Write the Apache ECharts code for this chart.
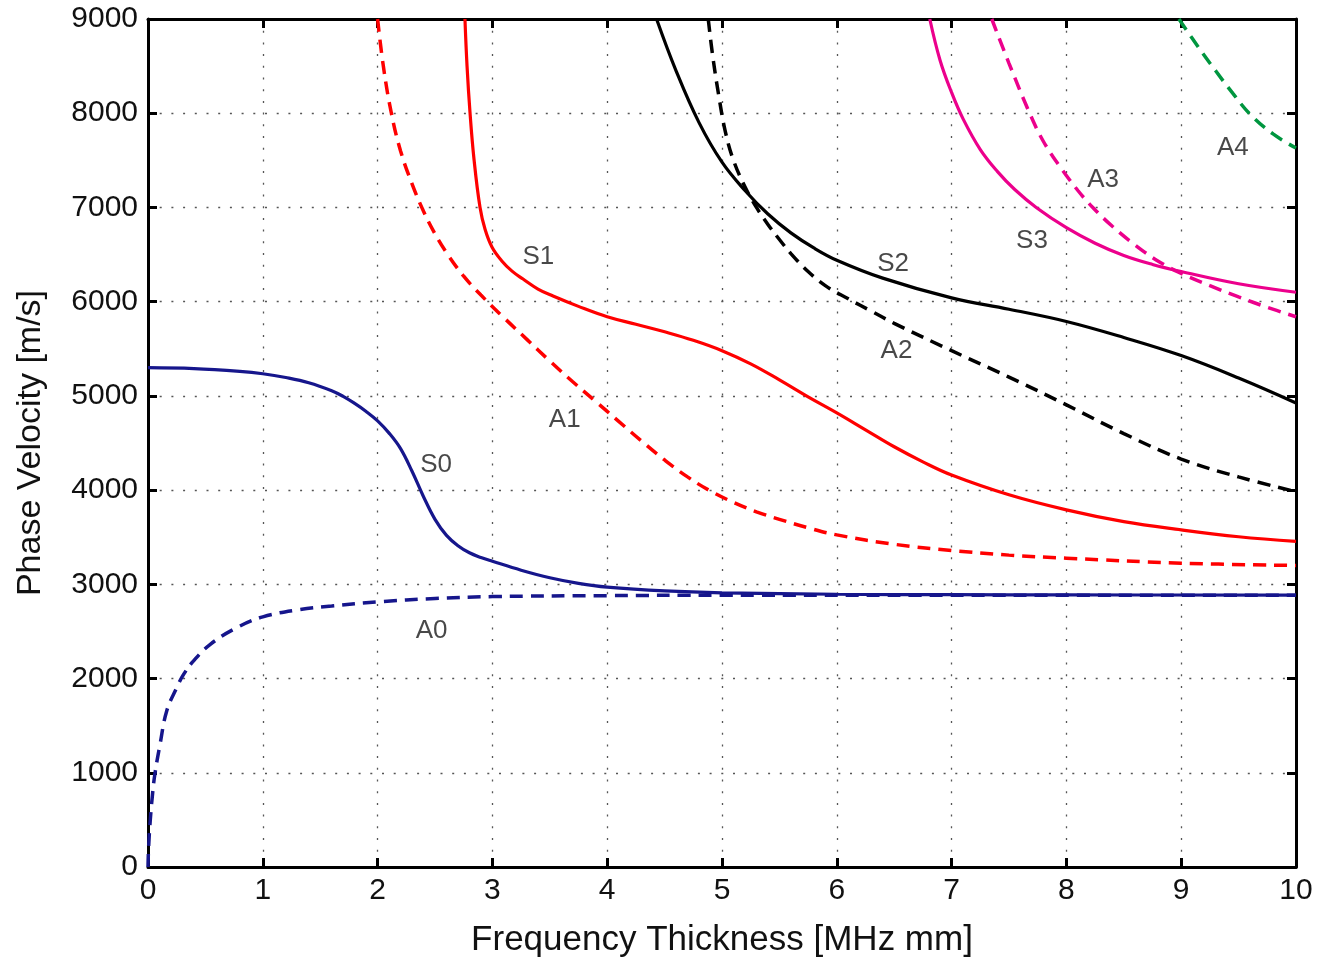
<!DOCTYPE html>
<html><head><meta charset="utf-8">
<script src="https://cdn.jsdelivr.net/npm/echarts@6/dist/echarts.min.js"></script>
<style>html,body{margin:0;padding:0;background:#fff}#c{width:1323px;height:963px}</style>
</head><body><div id="c"></div>
<script>
// Axis ranges / ticks
const xMin = 0, xMax = 10, xStep = 1;
const yMin = 0, yMax = 9000, yStep = 1000;
const xTitle = 'Frequency Thickness [MHz mm]';
const yTitle = 'Phase Velocity [m/s]';

// Dispersion curves: [frequency-thickness, phase velocity]
const S0 = [[0,5300],[0.4,5290],[0.8,5260],[1.0,5235],[1.2,5195],[1.4,5140],[1.6,5055],[1.7,4995],[1.8,4920],[1.9,4835],[2.0,4735],[2.1,4605],[2.2,4440],[2.3,4200],[2.4,3930],[2.5,3690],[2.6,3520],[2.7,3410],[2.8,3335],[2.9,3285],[3.0,3245],[3.25,3150],[3.5,3070],[3.75,3010],[4.0,2970],[4.5,2930],[5.0,2910],[6.0,2895],[7.0,2890],[8.0,2888],[10.0,2885]];
const A0 = [[0,0],[0.005,200],[0.02,500],[0.04,780],[0.06,987],[0.105,1303],[0.163,1656],[0.25,1903],[0.31,2044],[0.395,2185],[0.54,2361],[0.77,2538],[1.0,2655],[1.32,2732],[1.6,2770],[2.0,2813],[2.5,2850],[3.0,2870],[4.0,2880],[5.0,2885],[7.0,2885],[10.0,2885]];
const S1 = [[2.761,9000],[2.779,8503],[2.805,8006],[2.84,7509],[2.892,7001],[2.936,6768],[2.997,6578],[3.084,6430],[3.171,6324],[3.267,6240],[3.397,6134],[3.528,6060],[3.75,5950],[4.0,5840],[4.25,5760],[4.5,5680],[4.75,5590],[5.0,5480],[5.25,5340],[5.5,5170],[5.75,4990],[6.0,4820],[6.25,4640],[6.5,4460],[6.75,4300],[7.0,4160],[7.5,3950],[8.0,3790],[8.5,3665],[9.0,3578],[9.5,3505],[10.0,3455]];
const A1 = [[2.0,9000],[2.05,8500],[2.12,8000],[2.2,7600],[2.3,7250],[2.4,6960],[2.5,6720],[2.6,6520],[2.75,6270],[2.9,6070],[3.1,5830],[3.3,5600],[3.5,5370],[3.7,5150],[3.9,4940],[4.1,4730],[4.3,4520],[4.5,4320],[4.7,4140],[4.9,3990],[5.1,3870],[5.3,3770],[5.5,3690],[5.75,3600],[6.0,3525],[6.5,3425],[7.0,3360],[7.5,3310],[8.0,3278],[9.0,3225],[10.0,3200]];
const S2 = [[4.43,9000],[4.6,8450],[4.8,7900],[5.0,7480],[5.2,7180],[5.4,6930],[5.6,6730],[5.8,6570],[6.0,6440],[6.4,6250],[7.0,6040],[7.5,5920],[8.0,5790],[8.5,5620],[9.0,5428],[9.5,5190],[10.0,4925]];
const A2 = [[4.88,9000],[4.92,8600],[4.97,8200],[5.03,7800],[5.1,7500],[5.2,7220],[5.3,7000],[5.4,6820],[5.5,6660],[5.6,6510],[5.75,6320],[5.9,6170],[6.1,6030],[6.3,5900],[6.5,5770],[7.0,5480],[7.5,5200],[8.0,4905],[8.5,4600],[9.0,4330],[9.5,4140],[10.0,3984]];
const S3 = [[6.81,9000],[6.9,8560],[7.0,8220],[7.1,7940],[7.25,7614],[7.4,7380],[7.55,7190],[7.74,6997],[8.0,6785],[8.25,6620],[8.5,6490],[8.75,6395],[9.0,6320],[9.5,6190],[10.0,6100]];
const A3 = [[7.35,9000],[7.5,8530],[7.68,8000],[7.8,7700],[7.94,7440],[8.1,7180],[8.23,7000],[8.4,6800],[8.6,6600],[8.8,6430],[9.0,6300],[9.25,6170],[9.5,6050],[9.75,5940],[10.0,5840]];
const A4 = [[8.98,9000],[9.15,8700],[9.3,8450],[9.45,8210],[9.6,7990],[9.8,7780],[10.0,7630]];

// Curve annotations
const labelNames = ['S0','A0','S1','A1','S2','A2','S3','A3','A4'];
const labelPos = [[2.51,4272],[2.47,2510],[3.40,6475],[3.63,4741],[6.49,6398],[6.52,5478],[7.70,6644],[8.32,7297],[9.45,7632]];

const NAVY = '#16168c', RED = '#ff0000', BLACK = '#000000', PINK = '#ec008c', GREEN = '#00963f';
const FONT = '"Liberation Sans", Arial, Helvetica, sans-serif';
const DASH = [13, 8];

function line(name, data, color, dashed) {
  return {
    name, type: 'line', data, smooth: 0.4, showSymbol: false, symbol: 'none', clip: true,
    lineStyle: { color, width: dashed ? 3.5 : 3.2, type: dashed ? DASH : 'solid' },
    emphasis: { disabled: true }, silent: true
  };
}

const gridDots = { show: true, lineStyle: { color: '#555', width: 1.3, type: [2, 9.7] } };
const tickIn = { show: true, inside: true, length: 9, lineStyle: { color: '#000', width: 3 } };
const axLine = { show: true, onZero: false, lineStyle: { color: '#000', width: 3 } };
const lab = { color: '#111', fontSize: 30, fontFamily: FONT, formatter: v => String(v) };

const chart = echarts.init(document.getElementById('c'));
chart.setOption({
  animation: false,
  backgroundColor: '#fff',
  grid: { left: 148, right: 27, top: 19, bottom: 93, containLabel: false },
  xAxis: [
    { type: 'value', position: 'bottom', min: xMin, max: xMax, interval: xStep,
      axisLine: axLine, axisTick: tickIn, splitLine: gridDots,
      axisLabel: Object.assign({ margin: 9 }, lab),
      name: xTitle, nameLocation: 'middle', nameGap: 56,
      nameTextStyle: { color: '#111', fontSize: 35, fontFamily: FONT } },
    { type: 'value', position: 'top', min: xMin, max: xMax, interval: xStep,
      axisLine: axLine, axisTick: tickIn, splitLine: { show: false }, axisLabel: { show: false } }
  ],
  yAxis: [
    { type: 'value', position: 'left', min: yMin, max: yMax, interval: yStep,
      axisLine: axLine, axisTick: tickIn, splitLine: gridDots,
      axisLabel: Object.assign({ margin: 10 }, lab),
      name: yTitle, nameLocation: 'middle', nameGap: 100,
      nameTextStyle: { color: '#111', fontSize: 34, fontFamily: FONT } },
    { type: 'value', position: 'right', min: yMin, max: yMax, interval: yStep,
      axisLine: axLine, axisTick: tickIn, splitLine: { show: false }, axisLabel: { show: false } }
  ],
  series: [
    line('A0', A0, NAVY, true),
    line('S0', S0, NAVY, false),
    line('A1', A1, RED, true),
    line('S1', S1, RED, false),
    line('A2', A2, BLACK, true),
    line('S2', S2, BLACK, false),
    line('A3', A3, PINK, true),
    line('S3', S3, PINK, false),
    line('A4', A4, GREEN, true),
    { type: 'scatter', symbolSize: 0, silent: true,
      data: labelNames.map((n, i) => ({ name: n, value: labelPos[i] })),
      label: { show: true, position: 'inside', formatter: p => p.name,
               color: '#1a1a1a', fontSize: 26, fontFamily: FONT } }
  ]
});
</script>
</body></html>
